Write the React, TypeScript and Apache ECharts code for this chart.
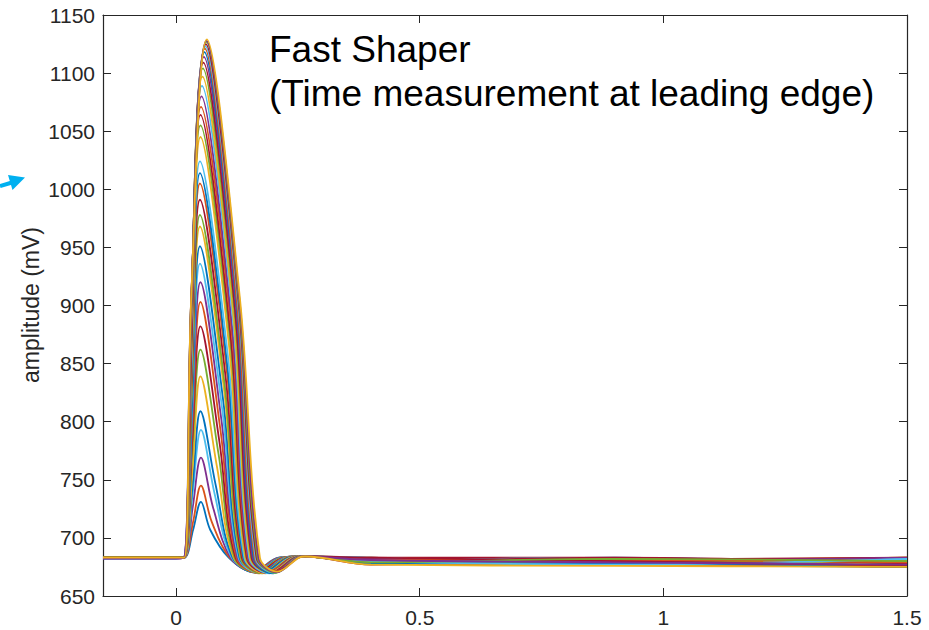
import React, { useEffect, useRef } from "react";
import * as echarts from "echarts";

// ---- data ----
const xTickValues = [0, 0.5, 1, 1.5];
const baselineValue = 683;
const bumpPoint = [0.265, 684];

const peakAmp = [731, 745, 769, 793, 809, 839, 862, 882, 903, 920, 936, 951, 968, 978, 991, 1005, 1014, 1024, 1045, 1055, 1064, 1071, 1080, 1089, 1097, 1104, 1109, 1114, 1118, 1121, 1123, 1125, 1127, 1128, 1129];
const peakTime = [0.051, 0.051, 0.051, 0.051, 0.05, 0.05, 0.05, 0.05, 0.05, 0.05, 0.049, 0.049, 0.049, 0.049, 0.049, 0.049, 0.049, 0.049, 0.05, 0.05, 0.05, 0.051, 0.052, 0.053, 0.054, 0.055, 0.056, 0.057, 0.058, 0.059, 0.06, 0.061, 0.062, 0.062, 0.063];
const riseHalfTime = [0.035, 0.035, 0.034, 0.034, 0.034, 0.034, 0.033, 0.033, 0.033, 0.033, 0.033, 0.033, 0.032, 0.032, 0.032, 0.032, 0.032, 0.032, 0.032, 0.032, 0.032, 0.031, 0.031, 0.031, 0.031, 0.031, 0.031, 0.031, 0.031, 0.031, 0.031, 0.031, 0.031, 0.031, 0.031];
const fallHalfTime = [0.07, 0.073, 0.076, 0.079, 0.081, 0.084, 0.087, 0.089, 0.091, 0.093, 0.095, 0.097, 0.099, 0.1, 0.102, 0.104, 0.105, 0.107, 0.109, 0.111, 0.112, 0.114, 0.115, 0.117, 0.118, 0.12, 0.121, 0.123, 0.124, 0.125, 0.127, 0.128, 0.129, 0.13, 0.131];
const fallEndTime = [0.108, 0.11, 0.112, 0.114, 0.116, 0.118, 0.12, 0.122, 0.124, 0.126, 0.128, 0.13, 0.132, 0.133, 0.135, 0.137, 0.138, 0.14, 0.142, 0.144, 0.145, 0.147, 0.148, 0.15, 0.152, 0.154, 0.155, 0.157, 0.159, 0.161, 0.163, 0.165, 0.167, 0.169, 0.172];
const minTime = [0.158, 0.16, 0.161, 0.163, 0.164, 0.166, 0.167, 0.169, 0.17, 0.172, 0.173, 0.175, 0.176, 0.177, 0.179, 0.18, 0.181, 0.183, 0.184, 0.186, 0.187, 0.189, 0.19, 0.192, 0.193, 0.195, 0.196, 0.198, 0.199, 0.201, 0.202, 0.204, 0.205, 0.206, 0.208];
const minValue = [671, 671.5, 670.5, 671, 670, 670.5, 670, 671, 669.5, 670.5, 670, 671, 670, 669.5, 670.5, 670, 671, 670, 669.5, 670.5, 670, 671, 670, 669.5, 670.5, 670, 670.5, 670, 669.5, 670.5, 670, 671, 670, 670.5, 671];
const recoverTime = [0.21, 0.212, 0.213, 0.215, 0.216, 0.218, 0.219, 0.221, 0.222, 0.224, 0.225, 0.227, 0.228, 0.229, 0.231, 0.232, 0.233, 0.235, 0.236, 0.238, 0.239, 0.24, 0.241, 0.242, 0.243, 0.244, 0.245, 0.246, 0.247, 0.248, 0.249, 0.25, 0.25, 0.251, 0.252];
const baseStart = [683.3, 682.7, 683.5, 683, 682.5, 683.3, 683.5, 682.7, 683, 683.3, 682.5, 683.5, 683, 682.7, 683.3, 683.5, 682.5, 683, 683.3, 682.7, 683.5, 683, 682.5, 683.3, 682.7, 683.5, 683, 682.5, 683.3, 683.5, 682.7, 683, 683.3, 682.5, 683];
const tailAt04 = [681, 683, 679, 682, 678, 681, 680, 683, 678, 681, 680, 682, 679, 681, 677, 683, 679, 681, 680, 682, 678, 681, 680, 683, 679, 681, 680, 682, 678, 681, 680, 683, 679, 681, 677];
const tailAt09 = [680, 678, 682, 680, 677, 681, 679, 683, 677, 682, 679, 681, 680, 677, 682, 679, 680, 683, 677, 680, 681, 678, 680, 677, 682, 679, 683, 680, 678, 681, 677, 680, 682, 679, 676];
const tailAt15 = [679, 683, 677, 681, 675, 683, 677, 675, 680, 682, 676, 680, 683, 677, 675, 682, 679, 676, 681, 678, 683, 675, 679, 682, 676, 680, 678, 683, 675, 679, 682, 676, 680, 677, 675];

// MATLAB line colours, per pulse as seen in the picture
const C = { b: "#0072BD", o: "#D95319", y: "#EDB120", p: "#7E2F8E", g: "#77AC30", c: "#4DBEEE", r: "#A2142F" };
const pulseColor = [C.b, C.o, C.p, C.c, C.b, C.y, C.g, C.r, C.o, C.p, C.c, C.b, C.y, C.g, C.r, C.o, C.b, C.c, C.y, C.g, C.r, C.o, C.p, C.c, C.y, C.g, C.r, C.p, C.b, C.o, C.c, C.r, C.g, C.p, C.y];

const AX = "#262626";
const FONT = "'Liberation Sans', Arial, Helvetica, sans-serif";

export default function App() {
  const ref = useRef<HTMLDivElement>(null);
  useEffect(() => {
    document.body.style.margin = "0";
    if (!ref.current) return;
    const chart = echarts.init(ref.current, undefined, { renderer: "svg" });

    const series = peakAmp.map((A, i) => {
      const mid = (A + baselineValue) / 2;
      const data = [
        [-0.15, baseStart[i]],
        [0, baseStart[i]],
        [0.017, baselineValue],
        [riseHalfTime[i], mid],
        [peakTime[i], A],
        [fallHalfTime[i], mid],
        [fallEndTime[i], baselineValue],
        [minTime[i], minValue[i]],
        [recoverTime[i], baselineValue],
        bumpPoint,
        [0.4, tailAt04[i]],
        [0.9, tailAt09[i]],
        [1.5, tailAt15[i]],
      ];
      return {
        type: "line",
        data,
        smooth: 0.35,
        showSymbol: false,
        symbol: "none",
        xAxisIndex: 0,
        yAxisIndex: 0,
        lineStyle: { color: pulseColor[i], width: 1.8 },
        itemStyle: { color: pulseColor[i] },
        clip: true,
      };
    });

    const tickCommon = { inside: true, length: 8, lineStyle: { color: AX, width: 1 } };
    const fmt = (v: number) => String(v);

    chart.setOption({
      animation: false,
      backgroundColor: "#ffffff",
      grid: { left: 103, right: 22, top: 15, bottom: 34, containLabel: false, outerBoundsMode: "none" },
      xAxis: [
        {
          type: "value",
          min: -0.15,
          max: 1.5,
          position: "bottom",
          axisLine: { show: true, onZero: false, lineStyle: { color: AX, width: 1.2 } },
          axisTick: { ...tickCommon, customValues: xTickValues },
          axisLabel: { customValues: xTickValues, color: AX, fontSize: 21, fontFamily: FONT, margin: 11, formatter: fmt },
          splitLine: { show: false },
        },
        {
          type: "value",
          min: -0.15,
          max: 1.5,
          position: "top",
          axisLine: { show: true, onZero: false, lineStyle: { color: AX, width: 1.2 } },
          axisTick: { ...tickCommon, customValues: xTickValues },
          axisLabel: { show: false, customValues: xTickValues },
          splitLine: { show: false },
        },
      ],
      yAxis: [
        {
          type: "value",
          min: 650,
          max: 1150,
          interval: 50,
          position: "left",
          axisLine: { show: true, onZero: false, lineStyle: { color: AX, width: 1.2 } },
          axisTick: tickCommon,
          axisLabel: { color: AX, fontSize: 21, fontFamily: FONT, margin: 8, formatter: fmt },
          splitLine: { show: false },
        },
        {
          type: "value",
          min: 650,
          max: 1150,
          interval: 50,
          position: "right",
          axisLine: { show: true, onZero: false, lineStyle: { color: AX, width: 1.2 } },
          axisTick: tickCommon,
          axisLabel: { show: false },
          splitLine: { show: false },
        },
      ],
      series,
      graphic: [
        {
          type: "text",
          x: 31,
          y: 305,
          rotation: Math.PI / 2,
          style: { text: "amplitude (mV)", font: `23px ${FONT}`, fill: AX, align: "center", verticalAlign: "middle" },
        },
        {
          type: "text",
          x: 269,
          y: 49,
          style: { text: "Fast Shaper", font: `37px ${FONT}`, fill: "#000000", align: "left", verticalAlign: "middle" },
        },
        {
          type: "text",
          x: 269,
          y: 93,
          style: { text: "(Time measurement at leading edge)", font: `37px ${FONT}`, fill: "#000000", align: "left", verticalAlign: "middle" },
        },
        {
          type: "line",
          shape: { x1: 0, y1: 186, x2: 12, y2: 182.5 },
          style: { stroke: "#00B0F0", lineWidth: 4 },
        },
        {
          type: "polygon",
          shape: { points: [[25, 177.5], [8, 175], [12.5, 190]] },
          style: { fill: "#00B0F0" },
        },
      ],
    });

    return () => chart.dispose();
  }, []);

  return <div ref={ref} style={{ width: 929, height: 630 }} />;
}
